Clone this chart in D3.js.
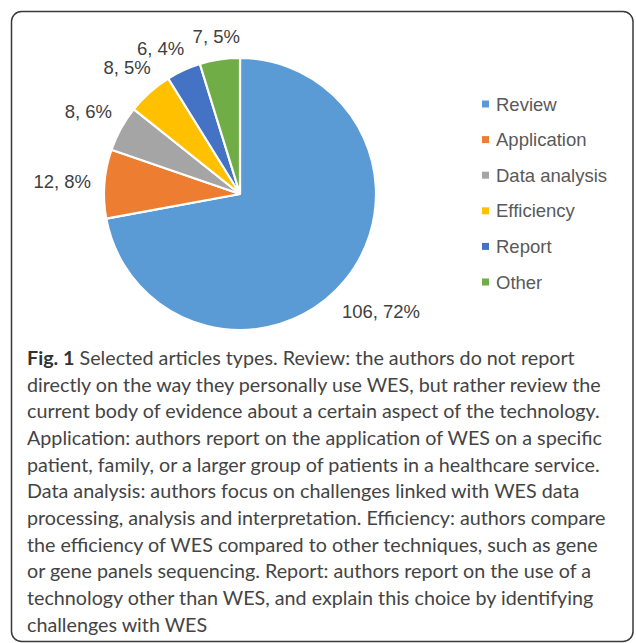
<!DOCTYPE html>
<html>
<head>
    <title>Selected articles types</title>
    <script src="https://d3js.org/d3.v7.min.js"></script>
    <style>
        body { margin: 0; background: #fff; }
    </style>
</head>
<body>
    <svg width="636" height="643"></svg>
    <script>
        // Data
        const categories = ["Review", "Application", "Data analysis", "Efficiency", "Report", "Other"];
        const counts = [106, 12, 8, 8, 6, 7];
        const percentLabels = ["72%", "8%", "6%", "5%", "4%", "5%"];
        const colors = ["#5B9BD5", "#ED7D31", "#A5A5A5", "#FFC000", "#4472C4", "#70AD47"];

        const captionLines = [
          "directly on the way they personally use WES, but rather review the",
          "current body of evidence about a certain aspect of the technology.",
          "Application: authors report on the application of WES on a specific",
          "patient, family, or a larger group of patients in a healthcare service.",
          "Data analysis: authors focus on challenges linked with WES data",
          "processing, analysis and interpretation. Efficiency: authors compare",
          "the efficiency of WES compared to other techniques, such as gene",
          "or gene panels sequencing. Report: authors report on the use of a",
          "technology other than WES, and explain this choice by identifying",
          "challenges with WES"
        ];
        const captionBold = "Fig. 1";
        const captionFirst = " Selected articles types. Review: the authors do not report";

        const svg = d3.select("svg");

        // Frame around the figure
        svg.append("rect")
            .attr("x", 11.5).attr("y", 11.5)
            .attr("width", 621.5).attr("height", 630)
            .attr("rx", 10)
            .attr("fill", "#fff")
            .attr("stroke", "#3a3a3a")
            .attr("stroke-width", 1.5);

        // Pie
        const cx = 240, cy = 194, radius = 136;
        const data = categories.map((c, i) => ({name: c, value: counts[i], pct: percentLabels[i], color: colors[i]}));

        const pie = d3.pie().value(d => d.value).sort(null);
        const arc = d3.arc().innerRadius(0).outerRadius(radius);
        const arcs = pie(data);

        const g = svg.append("g").attr("transform", `translate(${cx},${cy})`);

        g.selectAll("path")
          .data(arcs)
          .enter().append("path")
            .attr("d", arc)
            .attr("fill", d => d.data.color)
            .attr("stroke", "#fff")
            .attr("stroke-width", 2.2)
            .attr("stroke-linejoin", "round");

        // Outside-end labels, pushed out until the box clears the rim
        const labelFont = 18.5, labelPad = 13, labelGap = 8;
        const labels = g.selectAll("text.lbl")
          .data(arcs)
          .enter().append("text")
            .attr("class", "lbl")
            .attr("font-family", "Liberation Sans, Arial, sans-serif")
            .attr("font-size", labelFont)
            .attr("fill", "#404040")
            .attr("text-anchor", "middle")
            .text(d => `${d.data.value}, ${d.data.pct}`);

        function place(a, w, h) {
            const s = Math.sin(a), c = Math.cos(a);
            const r = radius + labelPad + Math.abs(s) * w / 2 + Math.abs(c) * h / 2;
            return {x: s * r, y: -c * r, w: w, h: h};
        }
        function overlaps(p, q) {
            return Math.abs(p.x - q.x) < (p.w + q.w) / 2 + labelGap &&
                   Math.abs(p.y - q.y) < (p.h + q.h) / 2;
        }

        const boxes = [];
        labels.each(function(d) {
            const w = this.getComputedTextLength();
            const h = labelFont * 0.75;
            d.labelAngle = (d.startAngle + d.endAngle) / 2;
            boxes.push(Object.assign(place(d.labelAngle, w, h), {d: d}));
        });

        // crowded labels near the top: walk back from the last slice, nudging each
        // one counter-clockwise until it clears its neighbour
        for (let i = boxes.length - 2; i >= 1; i--) {
            const next = boxes[i + 1];
            let b = boxes[i];
            let a = b.d.labelAngle;
            while (overlaps(b, next) && a > b.d.startAngle - 0.3) {
                a -= 0.005;
                b = Object.assign(place(a, b.w, b.h), {d: b.d});
            }
            b.d.labelAngle = a;
            boxes[i] = b;
        }

        labels.each(function(d, i) {
            d3.select(this)
              .attr("x", boxes[i].x)
              .attr("y", boxes[i].y + boxes[i].h / 2);
        });

        // Legend
        const legend = svg.append("g").attr("transform", "translate(482,104)");
        const rowH = 35.6;
        const item = legend.selectAll("g")
          .data(data)
          .enter().append("g")
            .attr("transform", (d, i) => `translate(0,${i * rowH})`);
        item.append("rect")
            .attr("x", 0).attr("y", -3.5)
            .attr("width", 7).attr("height", 7)
            .attr("fill", d => d.color);
        item.append("text")
            .attr("x", 14).attr("y", 6.5)
            .attr("font-family", "Liberation Sans, Arial, sans-serif")
            .attr("font-size", labelFont)
            .attr("fill", "#595959")
            .text(d => d.name);

        // Caption
        const capX = 27, capY = 365, capLead = 26.67;
        const capFont = "Lato, 'Open Sans', sans-serif";
        const cap = svg.append("g")
            .attr("font-family", capFont)
            .attr("fill", "#444");

        const first = cap.append("text").attr("x", capX).attr("y", capY);
        first.append("tspan").attr("font-weight", "bold").attr("fill", "#333").text(captionBold);
        first.append("tspan").text(captionFirst);

        cap.selectAll("text.line")
          .data(captionLines)
          .enter().append("text")
            .attr("class", "line")
            .attr("x", capX)
            .attr("y", (d, i) => capY + (i + 1) * capLead)
            .text(d => d);

        // size the caption so the longest line spans the frame like the original
        cap.attr("font-size", 20);
        let maxW = 0;
        cap.selectAll("text").each(function() { maxW = Math.max(maxW, this.getComputedTextLength()); });
        cap.attr("font-size", 20 * 579 / maxW);
    </script>
</body>
</html>
